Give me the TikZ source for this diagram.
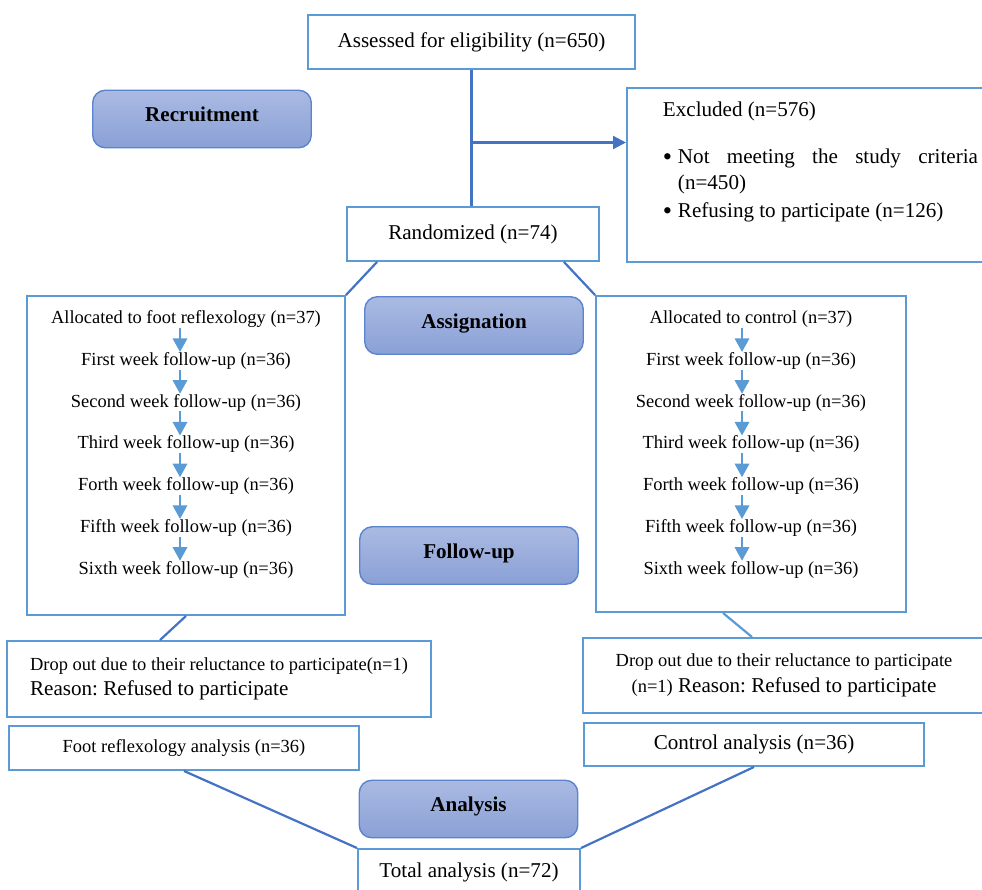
\documentclass[tikz,border=0pt]{standalone}
\usepackage{fontspec}
\setmainfont{Liberation Serif}
\frenchspacing
\usetikzlibrary{arrows.meta,calc}
\definecolor{boxblue}{HTML}{5B9BD5}
\definecolor{lineblue}{HTML}{4472C4}
\definecolor{phasetop}{HTML}{AABAE2}
\definecolor{phasebot}{HTML}{8AA0D6}
\definecolor{phaseedge}{HTML}{5B84CF}

\begin{document}
\begin{tikzpicture}[>={Triangle[length=2.6mm,width=2.6mm]}]
  \tikzset{
    flowbox/.style={rectangle, draw=boxblue, line width=1.1pt, fill=white, align=center, font=\fontsize{12}{14.5}\selectfont},
    phasebox/.style={rectangle, rounded corners=2.5mm, draw=phaseedge, line width=0.8pt, top color=phasetop, bottom color=phasebot, minimum width=4.37cm, minimum height=1.15cm, text height=8.5pt, text depth=5.2pt, font=\fontsize{12}{14.5}\selectfont\bfseries},
    flowline/.style={draw=lineblue, line width=1.25pt},
    steptext/.style={inner sep=0pt, font=\fontsize{10.5}{13}\selectfont},
    steparrow/.style={draw=boxblue, line width=0.9pt, -{Triangle[length=2.7mm,width=2.9mm]}}
  }
  \useasboundingbox (0,0) rectangle (19.64,-17.78);

  % recruitment
  \node[flowbox, minimum width=6.54cm, minimum height=1.08cm] (assess) at (9.43,-0.84) {Assessed for eligibility (n=650)};
  \node[phasebox] (recruit) at (4.04,-2.38) {Recruitment};
  \node[flowbox, align=left, anchor=north west, inner xsep=0.16cm, inner ysep=0.2cm] (excl) at (12.52,-1.74) {\hspace*{0.56cm}\begin{minipage}[t][3.08cm][t]{6.3cm}
      \hyphenpenalty=10000
      \vspace*{2pt}Excluded (n=576)\par\vspace{12.5pt}
      \noindent\hangindent=0.3cm\hangafter=1\makebox[0.3cm][l]{\raisebox{-1.3pt}{\fontsize{15}{14.5}\selectfont\textbullet}}Not meeting the study criteria (n=450)\par\vspace{1.5pt}
      \noindent\hangindent=0.3cm\hangafter=1\makebox[0.3cm][l]{\raisebox{-1.3pt}{\fontsize{15}{14.5}\selectfont\textbullet}}Refusing to participate (n=126)\par
    \end{minipage}};
  \node[flowbox, minimum width=5.04cm, minimum height=1.08cm] (rand) at (9.46,-4.68) {Randomized (n=74)};

  % allocation and follow-up
  \node[flowbox, minimum width=6.36cm, minimum height=6.38cm] (armA) at (3.72,-9.11) {};
  \node[flowbox, minimum width=6.2cm, minimum height=6.32cm] (armB) at (15.02,-9.08) {};
  \node[phasebox] (assign) at (9.48,-6.51) {Assignation};
  \node[phasebox] (follow) at (9.38,-11.11) {Follow-up};

  \foreach \txt [count=\i from 0] in {Allocated to foot reflexology (n=37), First week follow-up (n=36), Second week follow-up (n=36), Third week follow-up (n=36), Forth week follow-up (n=36), Fifth week follow-up (n=36), Sixth week follow-up (n=36)}
    \node[steptext] (stepA\i) at (3.72,{-6.38-0.835*\i}) {\txt};
  \foreach \txt [count=\i from 0] in {Allocated to control (n=37), First week follow-up (n=36), Second week follow-up (n=36), Third week follow-up (n=36), Forth week follow-up (n=36), Fifth week follow-up (n=36), Sixth week follow-up (n=36)}
    \node[steptext] (stepB\i) at (15.02,{-6.38-0.835*\i}) {\txt};

  \coordinate (colA) at (3.6,0);
  \coordinate (colB) at (14.84,0);
  \foreach \i [count=\j from 1] in {0,...,5} {
    \draw[steparrow] (stepA\i.south -| colA) -- (stepA\j.north -| colA);
    \draw[steparrow] (stepB\i.south -| colB) -- (stepB\j.north -| colB);
  }

  % drop out and analysis
  \node[flowbox, align=left, minimum width=8.48cm, minimum height=1.52cm] (dropA) at (4.38,-13.58) {{\fontsize{10.5}{13}\selectfont Drop out due to their reluctance to participate(n=1)}\\Reason: Refused to participate};
  \node[flowbox, minimum width=8.04cm, minimum height=1.5cm] (dropB) at (15.68,-13.51) {{\fontsize{10.5}{13}\selectfont Drop out due to their reluctance to participate}\\{\fontsize{10.5}{13}\selectfont (n=1)} Reason: Refused to participate};
  \node[flowbox, font=\fontsize{10.5}{13}\selectfont, minimum width=7cm, minimum height=0.88cm] (anaA) at (3.68,-14.96) {Foot reflexology analysis (n=36)};
  \node[flowbox, minimum width=6.8cm, minimum height=0.86cm] (anaB) at (15.08,-14.89) {Control analysis (n=36)};
  \node[phasebox] (analysis) at (9.37,-16.18) {Analysis};
  \node[flowbox, minimum width=4.44cm, minimum height=0.92cm] (total) at (9.38,-17.44) {Total analysis (n=72)};

  % connectors
  \draw[flowline] (assess.south) -- (assess.south |- rand.north);
  \coordinate (split) at (9.43,-2.85);
  \draw[flowline, ->] (split) -- (split -| excl.west);
  \draw[flowline] ([xshift=0.62cm]rand.south west) -- (armA.north east);
  \draw[flowline] ([xshift=-0.72cm]rand.south east) -- (armB.north west);
  \draw[flowline] (armA.south) -- ([xshift=-1.18cm]dropA.north);
  \draw[flowline, draw=boxblue] ([xshift=-0.56cm]armB.south) -- ([xshift=-0.64cm]dropB.north);
  \draw[flowline] (anaA.south) -- (total.north west);
  \draw[flowline] (anaB.south) -- (total.north east);
\end{tikzpicture}
\end{document}
